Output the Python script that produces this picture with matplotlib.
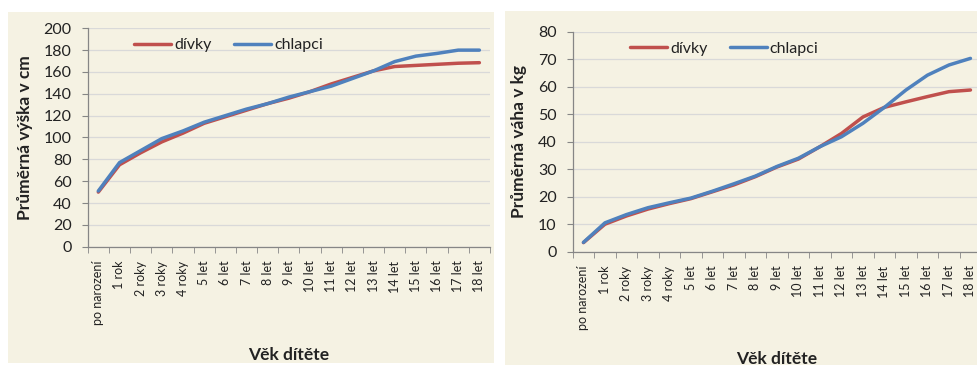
import matplotlib.pyplot as plt
from matplotlib.patches import Rectangle

plt.rcParams['font.family'] = ['Lato', 'DejaVu Sans']

vek = ['po narození', '1 rok', '2 roky', '3 roky', '4 roky', '5 let', '6 let',
       '7 let', '8 let', '9 let', '10 let', '11 let', '12 let', '13 let',
       '14 let', '15 let', '16 let', '17 let', '18 let']

# výška v cm
vyska_divky = [50, 75, 86, 96, 104, 113, 119, 125, 131, 136, 142, 149, 155,
               161, 165, 166, 167, 168, 168.5]
vyska_chlapci = [51, 77, 88, 99, 106, 114, 120, 126, 131, 137, 142, 147, 154,
                 161, 169.5, 174.5, 177, 180, 180]

# váha v kg
vaha_divky = [3.3, 10, 13, 15.5, 17.5, 19.3, 21.8, 24.3, 27.3, 30.8, 33.7,
              38.2, 43, 49, 52.5, 54.5, 56.4, 58.2, 58.8]
vaha_chlapci = [3.4, 10.5, 13.5, 16, 17.8, 19.5, 22, 24.7, 27.5, 31, 34,
                38.2, 41.8, 46.7, 52.5, 58.8, 64.2, 67.9, 70.3]

bg = '#f5f2e3'
red = '#c0504d'
blue = '#4f81bd'
grid = '#d9d9d9'
spine = '#868686'
txt = '#222222'

fig = plt.figure(figsize=(9.77, 3.65), dpi=100)
fig.patch.set_facecolor('white')
fig.patches.append(Rectangle((0.0082, 0.0055), 0.4974, 0.9616, transform=fig.transFigure,
                             facecolor=bg, edgecolor='none', zorder=-5))
fig.patches.append(Rectangle((0.5169, 0.0), 0.4831, 0.97, transform=fig.transFigure,
                             facecolor=bg, edgecolor='none', zorder=-5))


def panel(rect, d, c, ymax, ystep, ylabel, leg_anchor, xlab_y):
    ax = fig.add_axes(rect)
    ax.set_facecolor('none')
    x = range(len(vek))
    ax.plot(x, d, color=red, lw=2.5, solid_joinstyle='round', solid_capstyle='round', label='dívky')
    ax.plot(x, c, color=blue, lw=2.5, solid_joinstyle='round', solid_capstyle='round', label='chlapci')
    ax.set_xlim(-0.5, len(vek) - 0.5)
    ax.set_ylim(0, ymax)
    ax.set_yticks(range(0, ymax + 1, ystep))
    ax.set_xticks(x)
    ax.set_xticklabels(vek, rotation=90, fontsize=9, color=txt)
    ax.set_xticks([i - 0.5 for i in range(len(vek) + 1)], minor=True)
    ax.tick_params(axis='x', which='major', length=0, pad=10)
    ax.tick_params(axis='x', which='minor', length=4, color=spine, direction='out')
    ax.tick_params(axis='y', length=4.5, color=spine, labelsize=11.5, pad=7, labelcolor=txt)
    ax.grid(axis='y', color=grid, lw=0.9)
    ax.set_axisbelow(True)
    for s in ['top', 'right']:
        ax.spines[s].set_visible(False)
    for s in ['left', 'bottom']:
        ax.spines[s].set_color(spine)
        ax.spines[s].set_linewidth(0.9)
    ax.set_ylabel(ylabel, fontsize=12.5, fontweight='bold', labelpad=8, color=txt)
    ax.text(0.5, xlab_y, 'Věk dítěte', transform=ax.transAxes, ha='center', va='center',
            fontsize=12.5, fontweight='bold', color=txt)
    ax.legend(loc='upper left', bbox_to_anchor=leg_anchor, ncol=2, frameon=False,
              fontsize=11.5, handlelength=2.3, handletextpad=0.2, columnspacing=1.4,
              borderaxespad=0, labelcolor=txt)
    return ax


panel([0.0898, 0.3241, 0.4117, 0.5984], vyska_divky, vyska_chlapci, 200, 20,
      'Průměrná výška v cm', (0.10, 0.985), -0.495)
ax2 = panel([0.5862, 0.3104, 0.4181, 0.6027], vaha_divky, vaha_chlapci, 80, 10,
            'Průměrná váha v kg', (0.125, 0.985), -0.49)

fig.savefig('out.png', dpi=100, facecolor=fig.get_facecolor())
